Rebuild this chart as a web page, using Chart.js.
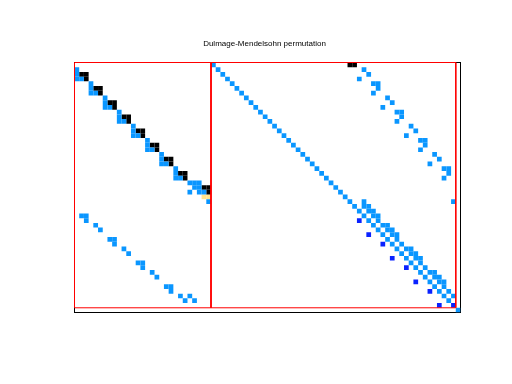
<!DOCTYPE html>
<html>
<head>
<meta charset="utf-8">
<script src="https://cdn.jsdelivr.net/npm/chart.js@4.4.1/dist/chart.umd.min.js"></script>
<style>
html,body{margin:0;padding:0;background:#fff;}
#wrap{width:512px;height:384px;}
</style>
</head>
<body>
<div id="wrap"><canvas id="c" width="512" height="384"></canvas></div>
<script>
// Matrix size and block boundaries (rows x cols)
const nRows = 53;
const nCols = 82;
const blockColEdges = [0.5, 29.5, 81.5];
const blockRowEdges = [0.5, 52.5];

// Nonzero entries as [row, col], grouped by colour class
const lightBlueCells = [
  [2,1],[3,1],[4,1],[4,2],
  [5,4],[6,4],[7,4],[7,5],
  [8,7],[9,7],[10,7],[10,8],
  [11,10],[12,10],[13,10],[13,11],
  [14,13],[15,13],[16,13],[16,14],
  [17,16],[18,16],[19,16],[19,17],
  [20,19],[21,19],[22,19],[22,20],
  [23,22],[24,22],[25,22],[25,23],
  [26,25],[26,26],[26,27],[27,26],[27,27],[28,25],[28,27],[28,28],[30,29],
  [33,2],[33,3],[34,3],[35,5],[36,6],
  [38,8],[38,9],[39,9],[40,11],[41,12],
  [43,14],[43,15],[44,15],[45,17],[46,18],
  [48,20],[48,21],[49,21],[50,23],[51,24],[50,25],[51,26],
  [1,30],[2,31],[3,32],[4,33],[5,34],[6,35],[7,36],[8,37],[9,38],[10,39],
  [11,40],[12,41],[13,42],[14,43],[15,44],[16,45],[17,46],[18,47],[19,48],[20,49],
  [21,50],[22,51],[23,52],[24,53],[25,54],[26,55],[27,56],[28,57],[29,58],[30,59],
  [31,60],[32,61],[33,62],[34,63],[35,64],[36,65],[37,66],[38,67],[39,68],[40,69],
  [41,70],[42,71],[43,72],[44,73],[45,74],[46,75],[47,76],[48,77],[49,78],[50,79],
  [51,80],
  [2,62],[3,63],[4,61],[5,64],[5,65],[6,65],[7,64],[8,67],[9,68],[10,66],
  [11,69],[11,70],[12,70],[13,69],[14,72],[15,73],[16,71],[17,74],[17,75],[18,75],
  [19,74],[20,77],[21,78],[22,76],[23,79],[23,80],[24,80],[25,79],
  [30,81],
  [30,62],[31,62],[31,63],[32,63],[32,64],[33,64],[33,65],[34,65],
  [35,66],[35,67],[36,67],[36,68],[37,68],[37,69],[38,69],[39,70],
  [40,71],[40,72],[41,72],[41,73],[42,73],[42,74],[43,74],[44,75],
  [45,76],[45,77],[46,77],[46,78],[47,78],[47,79],[48,79],[49,80],[50,81],
  [53,82]
];
const blackCells = [
  [3,2],[3,3],[4,3],
  [6,5],[6,6],[7,6],
  [9,8],[9,9],[10,9],
  [12,11],[12,12],[13,12],
  [15,14],[15,15],[16,15],
  [18,17],[18,18],[19,18],
  [21,20],[21,21],[22,21],
  [24,23],[24,24],[25,24],
  [27,28],[27,29],[28,29],
  [1,59],[1,60]
];
const yellowCells = [[29,28],[29,29]];
const darkBlueCells = [[34,61],[37,63],[39,66],[42,68],[44,71],[47,73],[49,76],[52,78],[52,81]];

const toPts = cells => cells.map(([r, c]) => ({x: c, y: r}));
function rectPts(x0, x1, y0, y1) {
  return [{x:x0,y:y0},{x:x1,y:y0},{x:x1,y:y1},{x:x0,y:y1},{x:x0,y:y0}];
}

const cellRadius = 3.334;
function cellSet(cells, color) {
  return {
    data: toPts(cells),
    pointStyle: 'rect',
    pointRadius: cellRadius,
    pointHoverRadius: cellRadius,
    pointBorderWidth: 0,
    backgroundColor: color,
    borderColor: color,
    showLine: false,
    xAxisID: 'x', yAxisID: 'y'
  };
}
function lineSet(pts) {
  return {
    data: pts,
    showLine: true,
    borderColor: '#ff0000',
    borderWidth: 1,
    pointRadius: 0,
    pointHoverRadius: 0,
    fill: false,
    tension: 0,
    clip: false,
    xAxisID: 'x', yAxisID: 'y'
  };
}

const datasets = [
  lineSet(rectPts(blockColEdges[0], blockColEdges[1], blockRowEdges[0], blockRowEdges[1])),
  lineSet(rectPts(blockColEdges[1], blockColEdges[2], blockRowEdges[0], blockRowEdges[1])),
  cellSet(lightBlueCells, '#0a96ff'),
  cellSet(blackCells, '#000000'),
  cellSet(yellowCells, '#ffe38c'),
  cellSet(darkBlueCells, '#0a22ff')
];

const hiddenAxis = (pos, min, max, rev) => ({
  type: 'linear', position: pos, min: min, max: max, reverse: !!rev,
  display: true,
  ticks: {display: false},
  grid: {display: false, drawTicks: false},
  border: {display: true, color: '#000000', width: 1},
  title: {display: false}
});

const yAxis = hiddenAxis('left', 0.5, nRows + 0.5, true);
yAxis.afterFit = s => { s.width = 6; };

new Chart(document.getElementById('c'), {
  type: 'scatter',
  data: {datasets},
  options: {
    responsive: false,
    devicePixelRatio: 1,
    animation: false,
    events: [],
    layout: {padding: {left: 68.5, right: 51.5, top: 0, bottom: 71.5}},
    plugins: {
      legend: {display: false},
      tooltip: {enabled: false},
      title: {
        display: true,
        text: 'Dulmage-Mendelsohn permutation',
        color: '#000000',
        font: {family: '"Liberation Sans", Arial, sans-serif', size: 8, weight: 'normal', lineHeight: 1.2},
        padding: {top: 39, bottom: 13.9}
      }
    },
    scales: {
      x: hiddenAxis('bottom', 0.5, nCols + 0.5),
      x2: hiddenAxis('top', 0.5, nCols + 0.5),
      y: yAxis,
      y2: hiddenAxis('right', 0.5, nRows + 0.5, true)
    }
  }
});
</script>
</body>
</html>
